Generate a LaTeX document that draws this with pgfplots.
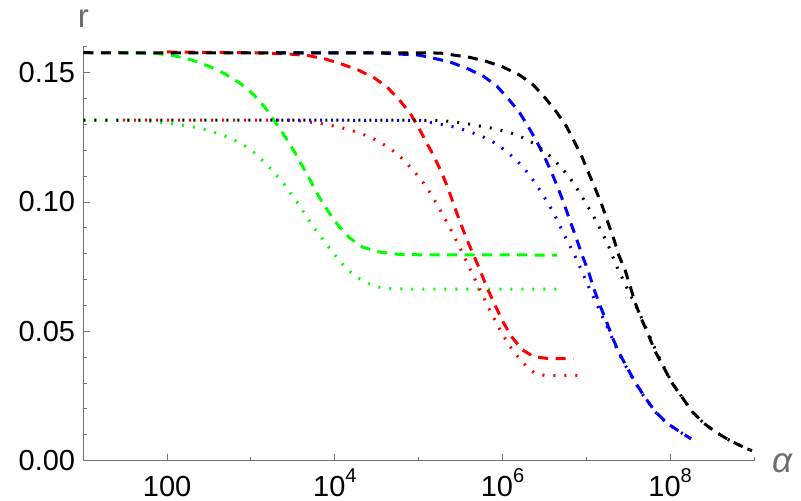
\documentclass[border=0pt]{standalone}
\usepackage{fontspec}
\setmainfont{Liberation Sans}
\usepackage{pgfplots}
\pgfplotsset{compat=1.18}
\usepackage{pgfplotstable}
\definecolor{axisgray}{rgb}{0.45,0.45,0.45}
\definecolor{labelgray}{rgb}{0.42,0.42,0.45}
\definecolor{mgreen}{rgb}{0,1,0}
\definecolor{mred}{rgb}{1,0,0}
\definecolor{mblue}{rgb}{0,0,1}
\newcommand{\sps}[1]{\raisebox{14bp}{\fontsize{20bp}{20bp}\selectfont #1}}

% columns: l = log10(alpha), r
\pgfplotstableread{
l r
1.000 0.1577
1.500 0.1577
1.856 0.1575
2.074 0.1566
2.294 0.1549
2.513 0.1523
2.692 0.1495
2.871 0.1459
3.029 0.1416
3.169 0.1365
3.288 0.1310
3.408 0.1252
3.506 0.1201
3.606 0.1143
3.706 0.1085
3.804 0.1024
3.916 0.0966
4.036 0.0911
4.174 0.0862
4.334 0.0825
4.541 0.0806
4.759 0.0798
5.000 0.0796
6.649 0.0795
}\tabGd
\pgfplotstableread{
l r
1.000 0.1317
1.700 0.1315
1.955 0.1307
2.074 0.1302
2.205 0.1296
2.333 0.1289
2.461 0.1280
2.580 0.1268
2.703 0.1253
2.822 0.1236
2.930 0.1216
3.037 0.1191
3.129 0.1163
3.220 0.1133
3.308 0.1102
3.395 0.1069
3.467 0.1037
3.547 0.1001
3.618 0.0966
3.685 0.0932
3.757 0.0898
3.836 0.0864
3.916 0.0830
3.995 0.0798
4.075 0.0766
4.162 0.0736
4.263 0.0709
4.374 0.0688
4.493 0.0673
4.621 0.0666
4.747 0.0664
5.000 0.0663
6.689 0.0663
}\tabGt
\pgfplotstableread{
l r
2.000 0.1580
3.000 0.1577
3.400 0.1573
3.666 0.1567
3.884 0.1553
4.084 0.1533
4.282 0.1510
4.469 0.1480
4.628 0.1443
4.771 0.1394
4.899 0.1343
4.986 0.1296
5.078 0.1240
5.177 0.1180
5.277 0.1112
5.356 0.1048
5.424 0.0985
5.495 0.0922
5.575 0.0855
5.662 0.0790
5.734 0.0735
5.814 0.0670
5.913 0.0600
6.012 0.0533
6.112 0.0478
6.231 0.0430
6.370 0.0402
6.569 0.0394
6.844 0.0395
}\tabRd
\pgfplotstableread{
l r
1.474 0.1317
3.400 0.1317
3.600 0.1313
3.804 0.1305
3.936 0.1297
4.063 0.1289
4.183 0.1278
4.310 0.1265
4.430 0.1250
4.541 0.1231
4.652 0.1208
4.759 0.1182
4.851 0.1152
4.938 0.1121
5.018 0.1091
5.090 0.1059
5.158 0.1024
5.224 0.0988
5.289 0.0950
5.356 0.0911
5.415 0.0873
5.475 0.0834
5.535 0.0796
5.582 0.0762
5.635 0.0725
5.694 0.0686
5.754 0.0647
5.805 0.0610
5.865 0.0571
5.925 0.0534
5.984 0.0499
6.052 0.0461
6.124 0.0425
6.211 0.0392
6.291 0.0363
6.378 0.0340
6.509 0.0329
6.895 0.0330
}\tabRt
\pgfplotstableread{
l r
3.300 0.1577
4.541 0.1576
4.998 0.1568
5.177 0.1556
5.376 0.1541
5.575 0.1517
5.773 0.1486
5.933 0.1448
6.072 0.1398
6.199 0.1348
6.310 0.1290
6.410 0.1233
6.501 0.1174
6.590 0.1111
6.668 0.1050
6.740 0.0988
6.808 0.0925
6.879 0.0862
6.947 0.0797
7.026 0.0731
7.086 0.0668
7.154 0.0608
7.234 0.0543
7.305 0.0482
7.384 0.0421
7.484 0.0361
7.584 0.0303
7.694 0.0247
7.822 0.0190
7.962 0.0145
8.120 0.0111
8.248 0.0085
}\tabBd
\pgfplotstableread{
l r
3.300 0.1317
5.018 0.1315
5.356 0.1295
5.475 0.1286
5.606 0.1272
5.726 0.1258
5.845 0.1240
5.952 0.1220
6.052 0.1194
6.152 0.1166
6.243 0.1136
6.322 0.1104
6.398 0.1070
6.470 0.1034
6.537 0.0998
6.601 0.0963
6.661 0.0924
6.716 0.0886
6.776 0.0847
6.835 0.0811
6.888 0.0776
6.936 0.0740
6.987 0.0702
7.055 0.0653
7.134 0.0598
7.205 0.0548
7.295 0.0484
7.376 0.0422
7.476 0.0362
7.578 0.0303
7.690 0.0247
7.818 0.0190
7.958 0.0145
8.118 0.0111
8.248 0.0085
}\tabBt
\pgfplotstableread{
l r
1.000 0.1577
5.256 0.1576
5.396 0.1569
5.614 0.1559
5.814 0.1543
6.012 0.1521
6.203 0.1491
6.370 0.1452
6.510 0.1402
6.641 0.1349
6.760 0.1294
6.856 0.1234
6.947 0.1175
7.026 0.1113
7.106 0.1052
7.186 0.0988
7.253 0.0925
7.325 0.0860
7.384 0.0797
7.464 0.0735
7.524 0.0673
7.584 0.0609
7.663 0.0544
7.742 0.0485
7.822 0.0422
7.921 0.0362
8.021 0.0301
8.141 0.0246
8.260 0.0190
8.399 0.0145
8.558 0.0108
8.717 0.0077
8.916 0.0046
8.976 0.0039
}\tabKd
\pgfplotstableread{
l r
1.000 0.1317
5.256 0.1316
5.456 0.1308
5.575 0.1303
5.702 0.1295
5.833 0.1288
5.952 0.1280
6.072 0.1270
6.191 0.1256
6.310 0.1239
6.418 0.1216
6.521 0.1191
6.617 0.1162
6.700 0.1133
6.788 0.1100
6.859 0.1067
6.927 0.1032
6.995 0.0995
7.067 0.0956
7.126 0.0921
7.186 0.0882
7.246 0.0844
7.293 0.0808
7.336 0.0771
7.393 0.0729
7.452 0.0691
7.504 0.0654
7.563 0.0618
7.625 0.0575
7.690 0.0530
7.753 0.0484
7.830 0.0424
7.925 0.0362
8.021 0.0301
8.141 0.0246
8.260 0.0190
8.399 0.0145
8.558 0.0108
8.717 0.0077
8.916 0.0046
8.976 0.0039
}\tabKt

\begin{document}
\begin{tikzpicture}
\path[use as bounding box] (0,0) rectangle (801bp,501bp);
\begin{axis}[
  at={(83.3bp,40.3bp)}, anchor=south west,
  scale only axis, width=670.7bp, height=413.9bp,
  xmode=log, xmin=10, xmax=1e9, ymin=0, ymax=0.16,
  axis lines=left,
  axis line style={-, draw=axisgray, line width=1bp},
  xtick={100,1e4,1e6,1e8},
  xticklabels={100,{10\sps{4}},{10\sps{6}},{10\sps{8}}},
  minor xtick={10,1000,1e5,1e7,1e9},
  ytick={0,0.05,0.1,0.15},
  yticklabels={0.00,0.05,0.10,0.15},
  minor ytick={0.01,0.02,0.03,0.04,0.06,0.07,0.08,0.09,0.11,0.12,0.13,0.14,0.16},
  tick align=inside,
  major tick length=6.5bp, minor tick length=3.5bp,
  every tick/.style={draw=axisgray, line width=1bp},
  xticklabel style={anchor=base, inner sep=0pt, yshift=-35.5bp, text=black, font=\fontsize{29bp}{30bp}\selectfont},
  yticklabel style={anchor=east, inner sep=0pt, xshift=-8bp, text=black, font=\fontsize{29bp}{30bp}\selectfont},
  clip=false,
  every axis plot/.append style={line width=3bp, line cap=butt, line join=round},
]
\addplot[mgreen, dash pattern=on 2bp off 9bp] table[x expr=10^\thisrow{l}, y=r]{\tabGt};
\addplot[mgreen, dash pattern=on 10bp off 7.5bp] table[x expr=10^\thisrow{l}, y=r]{\tabGd};
\addplot[mred, dash pattern=on 2bp off 9bp] table[x expr=10^\thisrow{l}, y=r]{\tabRt};
\addplot[mred, dash pattern=on 10bp off 7.5bp] table[x expr=10^\thisrow{l}, y=r]{\tabRd};
\addplot[mblue, dash pattern=on 2bp off 9bp] table[x expr=10^\thisrow{l}, y=r]{\tabBt};
\addplot[mblue, dash pattern=on 10bp off 7.5bp] table[x expr=10^\thisrow{l}, y=r]{\tabBd};
\addplot[black, dash pattern=on 2bp off 9bp] table[x expr=10^\thisrow{l}, y=r]{\tabKt};
\addplot[black, dash pattern=on 10bp off 7.5bp] table[x expr=10^\thisrow{l}, y=r]{\tabKd};
\node[anchor=base, inner sep=0pt, text=labelgray, font=\fontsize{33bp}{34bp}\selectfont] at (rel axis cs:0,1) [yshift=19.5bp] {r};
\node[anchor=base west, inner sep=0pt, text=labelgray, font=\fontsize{35bp}{36bp}\selectfont\itshape] at (rel axis cs:1,0) [xshift=18bp, yshift=-12bp] {α};
\end{axis}
\end{tikzpicture}
\end{document}
